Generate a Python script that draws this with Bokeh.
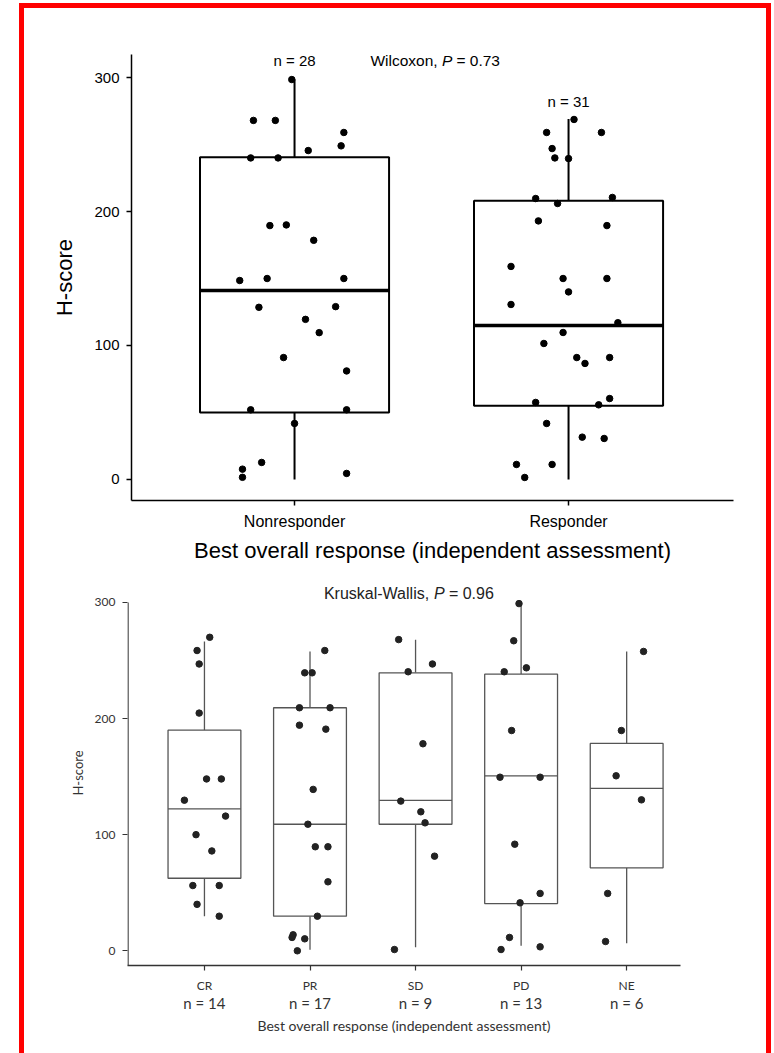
from bokeh.plotting import figure
from bokeh.models import FixedTicker, LinearAxis, Spacer
from bokeh.layouts import column, row
from bokeh.embed import file_html
from bokeh.resources import INLINE
from bokeh.core.properties import value

# ---------------- top panel data ----------------
top_groups = ["Nonresponder", "Responder"]
top_n_labels = ["n = 28", "n = 31"]
top_n_y = [312.7, 282]
top_low = [0, 0]
top_q1 = [50, 55]
top_med = [141, 115]
top_q3 = [240.5, 208]
top_high = [298.5, 269]

nonresp_scores = [298.5, 268, 268, 259, 249, 245.5, 240, 240, 189.5, 190, 178.5,
                  148.5, 150, 150, 128.5, 129, 119.5, 109.6, 91, 81, 52, 52, 41.8,
                  12.7, 7.7, 1.6, 4.5]
nonresp_jitter = [-0.01, -0.15, -0.07, 0.18, 0.17, 0.05, -0.16, -0.06, -0.09, -0.03, 0.07,
                  -0.20, -0.10, 0.18, -0.13, 0.15, 0.04, 0.09, -0.04, 0.19, -0.16, 0.19, 0.00,
                  -0.12, -0.19, -0.19, 0.19]
resp_scores = [268.7, 259, 259, 247, 240, 239.5, 209.7, 210.5, 206, 193, 189.5,
               159, 150, 150, 140, 130.6, 117, 109.7, 101.5, 91, 86.6, 91, 60.4,
               57.5, 55.7, 41.8, 31.6, 30.6, 11.2, 11.2, 1.5]
resp_jitter = [0.02, -0.08, 0.12, -0.06, -0.05, 0.00, -0.12, 0.16, -0.04, -0.11, 0.14,
               -0.21, -0.02, 0.14, 0.00, -0.21, 0.18, -0.02, -0.09, 0.03, 0.06, 0.15, 0.15,
               -0.12, 0.11, -0.08, 0.05, 0.13, -0.19, -0.06, -0.16]

# ---------------- bottom panel data ----------------
bot_groups = ["CR", "PR", "SD", "PD", "NE"]
bot_n_labels = ["n = 14", "n = 17", "n = 9", "n = 13", "n = 6"]
bot_low = [29.8, 0.9, 3.1, 4.3, 6.5]
bot_q1 = [62.5, 29.8, 109, 40.7, 71.5]
bot_med = [122.3, 109, 129.5, 150.7, 139.8]
bot_q3 = [190, 209.3, 239.4, 238.2, 178.6]
bot_high = [266.4, 257.8, 267.9, 299, 257.8]

cr_scores = [270, 258.6, 247, 204.7, 148, 148, 129.7, 116, 100, 86, 56.2, 56.2, 40, 29.8]
cr_jitter = [0.05, -0.07, -0.05, -0.05, 0.02, 0.16, -0.19, 0.20, -0.08, 0.07, -0.11, 0.14, -0.07, 0.14]
pr_scores = [258.6, 239.4, 239.4, 209.3, 209.3, 194.3, 190.9, 139, 109, 89.6, 89.6, 59.4,
             29.8, 13.8, 11.5, 10.3, 0]
pr_jitter = [0.14, -0.05, 0.02, -0.10, 0.19, -0.10, 0.15, 0.03, -0.02, 0.05, 0.17, 0.17,
             0.07, -0.16, -0.17, -0.05, -0.12]
sd_scores = [268, 247, 240.3, 178.3, 128.9, 119.7, 110.2, 81.5, 1.1]
sd_jitter = [-0.16, 0.16, -0.07, 0.07, -0.14, 0.05, 0.09, 0.18, -0.20]
pd_scores = [299, 267, 240.3, 243.7, 189.7, 149.5, 149.5, 91.8, 49.4, 41.3, 11.5, 1.1, 3.4]
pd_jitter = [-0.02, -0.07, -0.16, 0.05, -0.09, -0.20, 0.18, -0.06, 0.18, -0.01, -0.11, -0.19, 0.18]
ne_scores = [257.8, 189.7, 150.7, 130, 49.4, 8]
ne_jitter = [0.16, -0.05, -0.10, 0.14, -0.18, -0.20]

yticks = [0, 100, 200, 300]
x_title = "Best overall response (independent assessment)"

ARIAL = "Liberation Sans"
CAL = "Lato"
RED = "#ff0000"
FW = 742  # figure width inside the red frame

# ================= top figure =================
H1 = 560
p1 = figure(width=FW, height=H1, x_range=(0.405, 2.602), y_range=(-15.7, 317.2),
            output_backend="svg", toolbar_location=None, frame_align=False,
            min_border_left=107, min_border_right=33, min_border_top=46, min_border_bottom=68)
p1.grid.visible = False
p1.outline_line_color = None
p1.background_fill_color = "white"
p1.border_fill_color = "white"

tpos = [i + 1 for i in range(len(top_groups))]
bw = 0.69
p1.segment(x0=tpos, y0=top_q3, x1=tpos, y1=top_high, line_color="black", line_width=2)
p1.segment(x0=tpos, y0=top_low, x1=tpos, y1=top_q1, line_color="black", line_width=2)
p1.quad(left=[x - bw / 2 for x in tpos], right=[x + bw / 2 for x in tpos],
        bottom=top_q1, top=top_q3, fill_color="white", line_color="black", line_width=2)
p1.segment(x0=[x - bw / 2 for x in tpos], y0=top_med, x1=[x + bw / 2 for x in tpos], y1=top_med,
           line_color="black", line_width=3.5)
p1.scatter(x=[1 + j for j in nonresp_jitter], y=nonresp_scores, size=6.5, color="black")
p1.scatter(x=[2 + j for j in resp_jitter], y=resp_scores, size=6.5, color="black")
p1.text(x=tpos, y=top_n_y, text=top_n_labels, text_align="center", text_baseline="middle",
        text_font=value(ARIAL), text_font_size="15px", text_color="black")

wx, wy = 1.277, 312.7
p1.text(x=[wx], y=[wy], text=["Wilcoxon,"], text_align="left", text_baseline="middle",
        text_font=value(ARIAL), text_font_size="15.5px", text_color="black")
p1.text(x=[wx], y=[wy], text=["P"], x_offset=71.5, text_align="left", text_baseline="middle",
        text_font=value(ARIAL), text_font_size="15.5px", text_font_style="italic", text_color="black")
p1.text(x=[wx], y=[wy], text=["= 0.73"], x_offset=86, text_align="left", text_baseline="middle",
        text_font=value(ARIAL), text_font_size="15.5px", text_color="black")

ax = p1.xaxis[0]
ax.ticker = FixedTicker(ticks=tpos)
ax.major_label_overrides = {p: g for p, g in zip(tpos, top_groups)}
ax.axis_label = x_title
for a in [p1.xaxis[0], p1.yaxis[0]]:
    a.axis_line_color = "black"
    a.axis_line_width = 1.5
    a.major_tick_line_color = "black"
    a.major_tick_line_width = 1.5
    a.major_tick_out = 5
    a.major_tick_in = 0
    a.minor_tick_line_color = None
    a.major_label_text_font = ARIAL
    a.major_label_text_color = "black"
    a.axis_label_text_font = ARIAL
    a.axis_label_text_font_size = "22px"
    a.axis_label_text_font_style = "normal"
    a.axis_label_text_color = "black"
    a.major_label_standoff = 7
ax.major_label_text_font_size = "16px"
p1.yaxis[0].major_label_text_font_size = "15px"
ax.axis_label_standoff = 5
ay = p1.yaxis[0]
ay.ticker = FixedTicker(ticks=yticks)
ay.axis_label = "H-score"
ay.axis_label_standoff = 14

# ================= bottom figure =================
H2 = 1045 - H1
bx_start = 0.271
p2 = figure(width=FW, height=H2, x_range=(bx_start, 5.51), y_range=(-12.66, 318.9),
            output_backend="svg", toolbar_location=None, frame_align=False,
            min_border_left=103, min_border_right=86, min_border_top=12, min_border_bottom=88)
p2.grid.visible = False
p2.outline_line_color = None
p2.background_fill_color = "white"
p2.border_fill_color = "white"

AXC = "#333333"
# visible part of the y axis line stops at the top tick
p2.segment(x0=[bx_start + 0.005], y0=[-12.66], x1=[bx_start + 0.005], y1=[yticks[-1]],
           line_color=AXC, line_width=1.3)

bpos = [i + 1 for i in range(len(bot_groups))]
BC = "#555555"
p2.segment(x0=bpos, y0=bot_q3, x1=bpos, y1=bot_high, line_color=BC, line_width=1.3)
p2.segment(x0=bpos, y0=bot_low, x1=bpos, y1=bot_q1, line_color=BC, line_width=1.3)
p2.quad(left=[x - bw / 2 for x in bpos], right=[x + bw / 2 for x in bpos],
        bottom=bot_q1, top=bot_q3, fill_color="white", line_color=BC, line_width=1.3)
p2.segment(x0=[x - bw / 2 for x in bpos], y0=bot_med, x1=[x + bw / 2 for x in bpos], y1=bot_med,
           line_color=BC, line_width=1.3)
for k, (sc, jt) in enumerate([(cr_scores, cr_jitter), (pr_scores, pr_jitter), (sd_scores, sd_jitter),
                              (pd_scores, pd_jitter), (ne_scores, ne_jitter)]):
    p2.scatter(x=[bpos[k] + j for j in jt], y=sc, size=6.5, color="#222222")

kx, ky = 2.132, 307.7
p2.text(x=[kx], y=[ky], text=["Kruskal-Wallis,"], text_align="left", text_baseline="middle",
        text_font=value(ARIAL), text_font_size="16px", text_color="#222222")
p2.text(x=[kx], y=[ky], x_offset=110, text=["P"], text_align="left", text_baseline="middle",
        text_font=value(ARIAL), text_font_size="16px", text_font_style="italic", text_color="#222222")
p2.text(x=[kx], y=[ky], x_offset=125, text=["= 0.96"], text_align="left", text_baseline="middle",
        text_font=value(ARIAL), text_font_size="16px", text_color="#222222")

bx = p2.xaxis[0]
bx.ticker = FixedTicker(ticks=bpos)
bx.major_label_overrides = {p: g for p, g in zip(bpos, bot_groups)}
by = p2.yaxis[0]
by.ticker = FixedTicker(ticks=yticks)
by.axis_label = "H-score"
for a in [bx, by]:
    a.axis_line_color = AXC
    a.axis_line_width = 1.3
    a.major_tick_line_color = AXC
    a.major_tick_line_width = 1.2
    a.major_tick_out = 5
    a.major_tick_in = 0
    a.minor_tick_line_color = None
    a.major_label_text_font = CAL
    a.major_label_text_font_size = "12px"
    a.major_label_text_color = AXC
    a.axis_label_text_font = CAL
    a.axis_label_text_font_size = "13px"
    a.axis_label_text_font_style = "normal"
    a.axis_label_text_color = AXC
    a.major_label_standoff = 7
by.axis_line_color = None
by.axis_label_standoff = 6

bx2 = LinearAxis(ticker=FixedTicker(ticks=bpos),
                 major_label_overrides={p: n for p, n in zip(bpos, bot_n_labels)},
                 axis_line_color=None, major_tick_line_color=None, minor_tick_line_color=None,
                 major_label_standoff=-8, major_label_text_font=CAL, major_label_text_font_size="15px",
                 major_label_text_color=AXC,
                 axis_label=x_title, axis_label_text_font=CAL, axis_label_text_font_size="14px",
                 axis_label_text_font_style="normal", axis_label_text_color=AXC,
                 axis_label_standoff=2)
p2.add_layout(bx2, "below")


def red(w, h):
    return Spacer(width=w, height=h, styles={"background-color": RED})


def blank(w, h):
    return Spacer(width=w, height=h, styles={"background-color": "white"})


inner = row(red(5, 1045), column(p1, p2, spacing=0), red(5, 1045), spacing=0)
framed = column(red(752, 5), inner, spacing=0)
layout = column(blank(774, 3), row(blank(19, 1050), framed, blank(3, 1050), spacing=0), spacing=0)
open("out.html", "w").write(file_html(layout, INLINE))
